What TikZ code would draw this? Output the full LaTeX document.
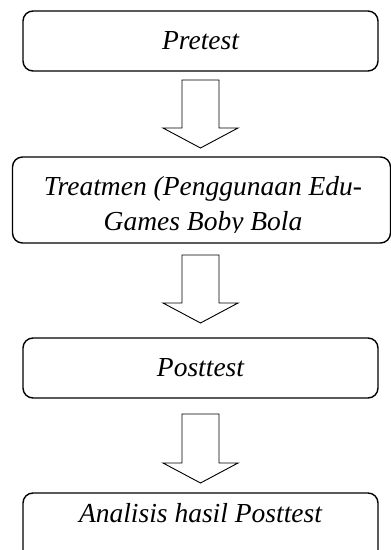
\documentclass[tikz,border=0pt]{standalone}
\usepackage{fontspec}
\setmainfont{Liberation Serif}
\usetikzlibrary{calc}
\tikzset{
  stepbox/.style={draw, line width=1.4pt, rounded corners=10pt},
  steptext/.style={font=\fontsize{27.5}{35}\selectfont\itshape, align=center, inner sep=0pt},
  arrowline/.style={draw, line width=0.9pt, fill=white}
}
% block arrow from a start coordinate down to a tip coordinate
\newcommand{\flowarrow}[2]{%
  \draw[arrowline] let \p1=(#1), \p2=(#2) in
    (\x1-18.5pt,\y1) -- (\x1+18.5pt,\y1) -- (\x1+18.5pt,\y2+20pt)
    -- (\x1+37.5pt,\y2+20pt) -- (\x1,\y2) -- (\x1-37.5pt,\y2+20pt)
    -- (\x1-18.5pt,\y2+20pt) -- cycle;}
\begin{document}
\begin{tikzpicture}[x=1pt,y=-1pt]
  \useasboundingbox (0,0) rectangle (391,550);
  % Boxes
  \node[stepbox, steptext, minimum width=355pt, minimum height=60pt] (pre) at (200.5,41) {Pretest};
  \node[stepbox, minimum width=378pt, minimum height=86pt] (treat) at (201.5,200) {};
  \node[stepbox, steptext, minimum width=355pt, minimum height=60pt] (post) at (200.5,368) {Posttest};
  \node[stepbox, minimum width=355pt, minimum height=70pt] (anal) at (200.5,528) {};
  % Texts of the boxes 2 and 4
  \begin{scope}
    \clip (12,157) rectangle (391,232);
    \node[steptext, anchor=base] (treattext) at (203,230) {Treatmen (Penggunaan Edu-\\Games Boby Bola};
  \end{scope}
  \node[steptext, anchor=base] (analtext) at (200.5,522) {Analisis hasil Posttest};
  % Arrows
  \coordinate (a1s) at (200.5,80);
  \coordinate (a1e) at (200.5,148);
  \coordinate (a2s) at (200.5,255);
  \coordinate (a2e) at (200.5,323);
  \coordinate (a3s) at (200.5,414);
  \coordinate (a3e) at (200.5,483);
  \flowarrow{a1s}{a1e}
  \flowarrow{a2s}{a2e}
  \flowarrow{a3s}{a3e}
\end{tikzpicture}
\end{document}
